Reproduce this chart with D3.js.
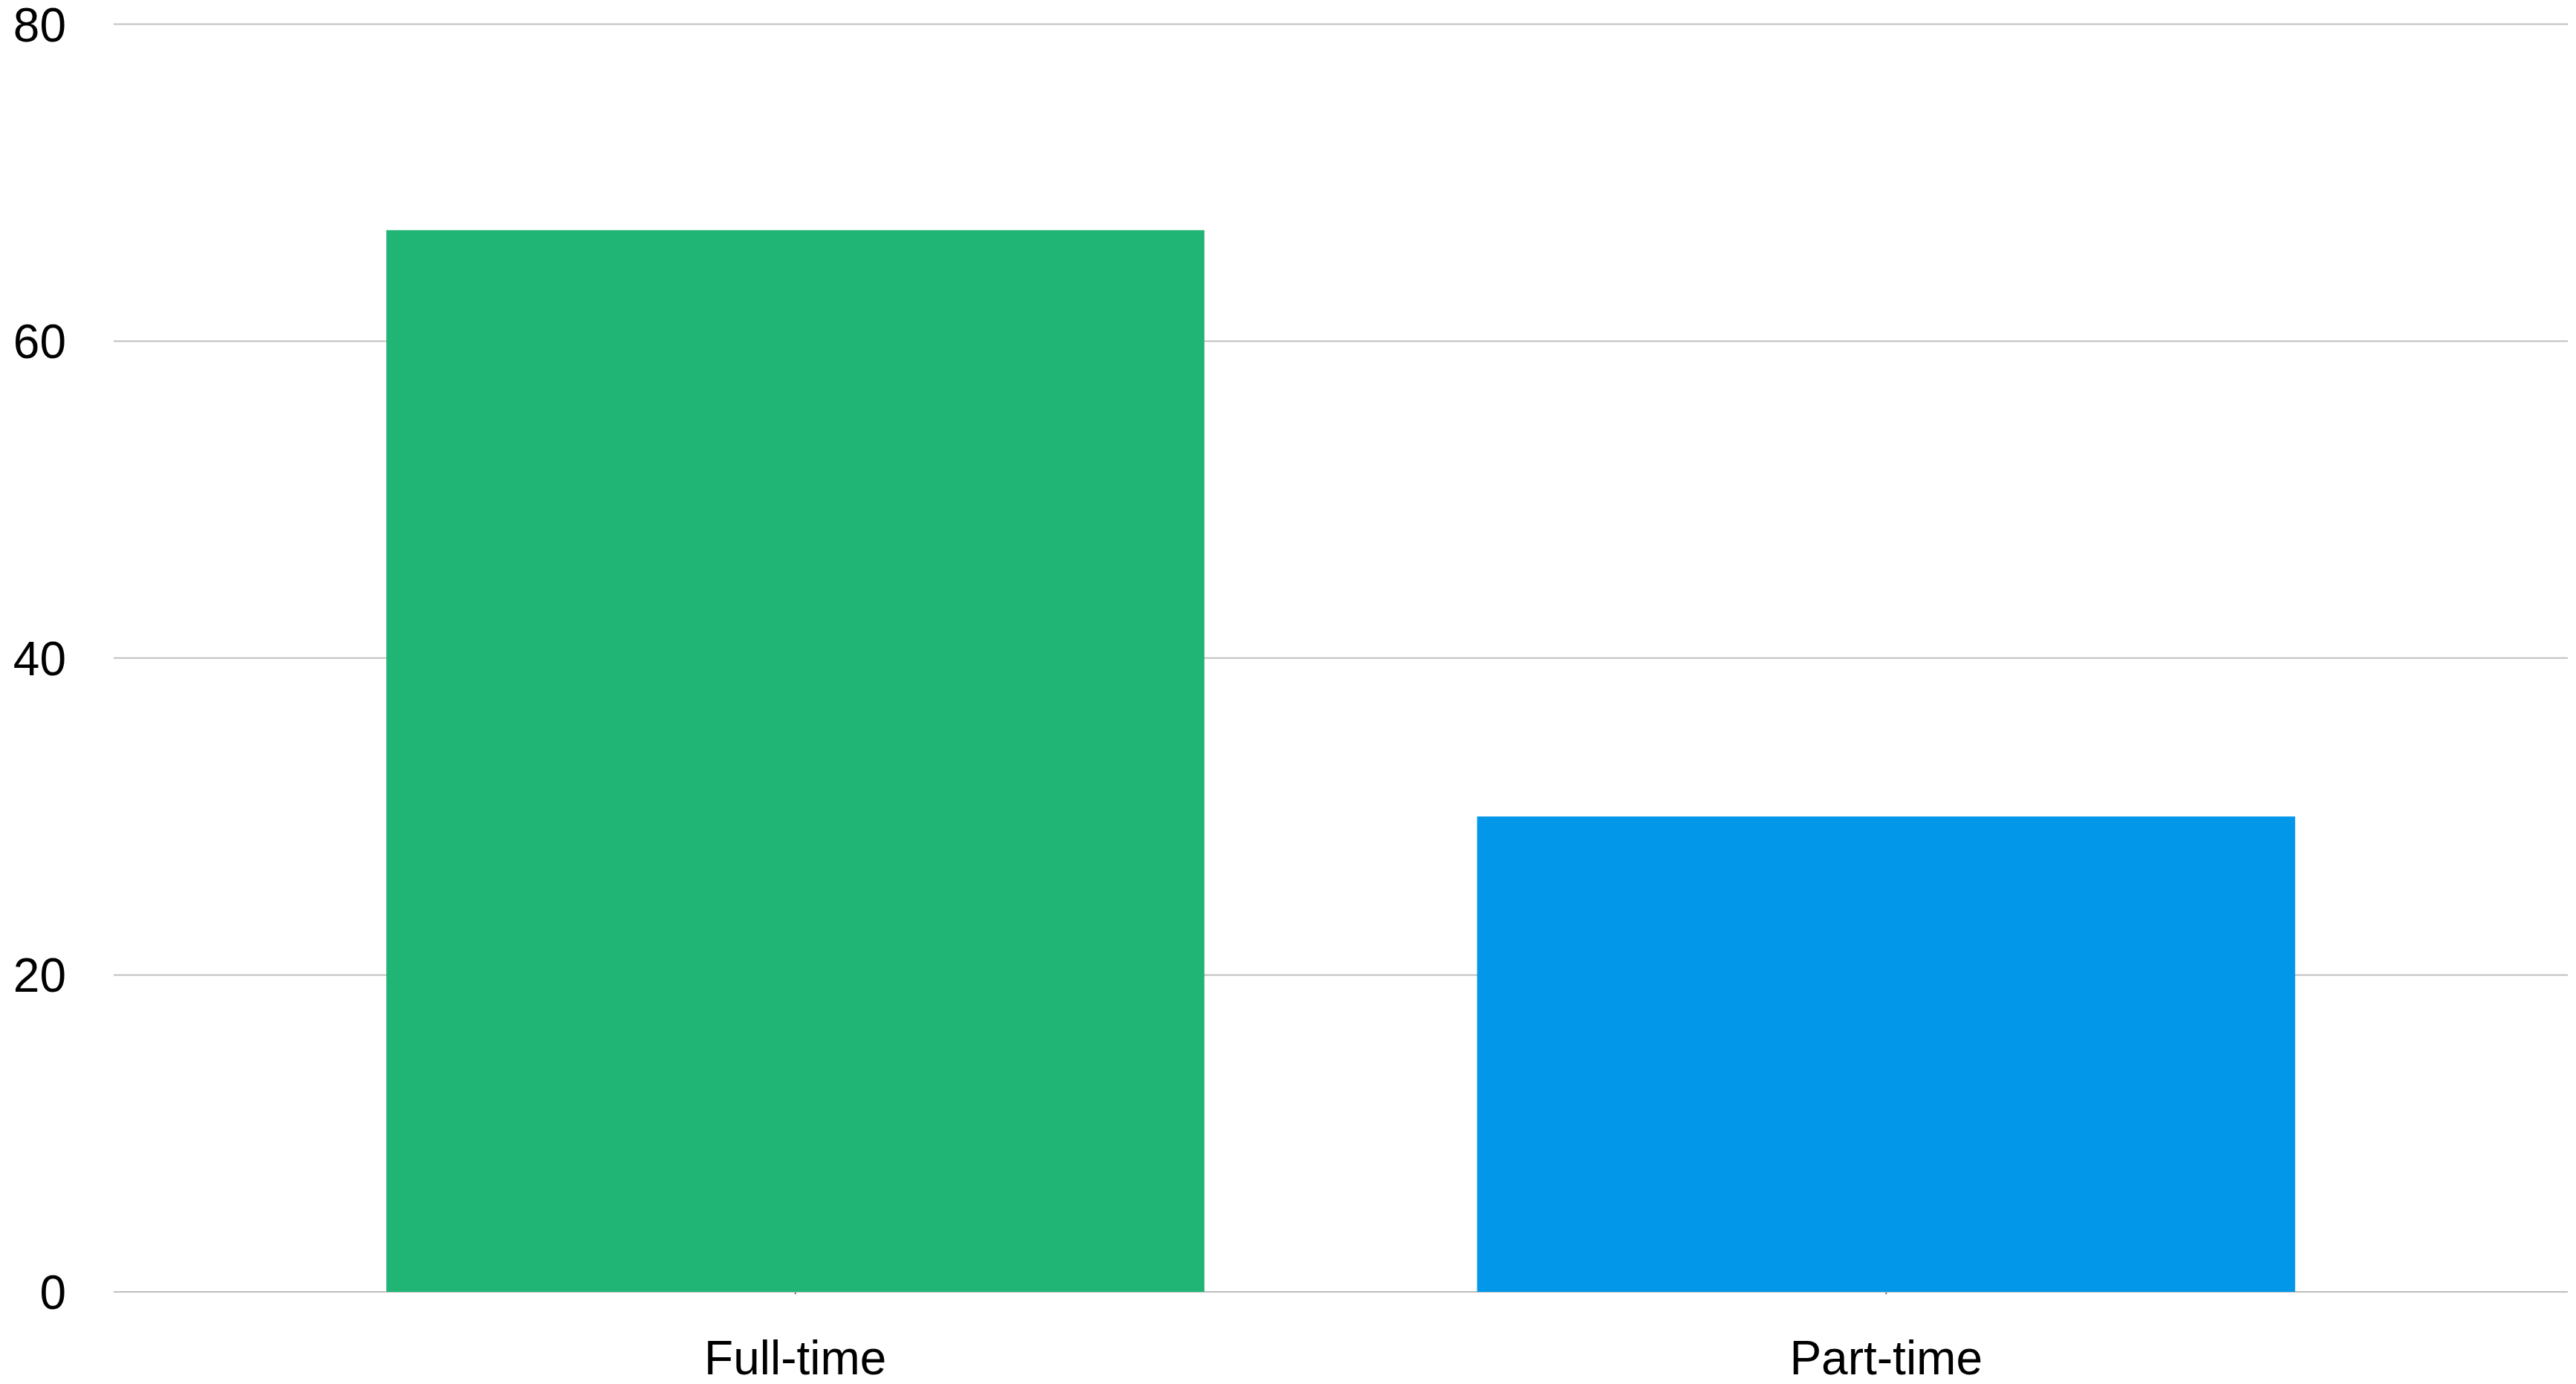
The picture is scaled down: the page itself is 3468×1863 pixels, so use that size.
<!DOCTYPE html>
<html>
<head>
<meta charset="utf-8">
<script src="https://cdn.jsdelivr.net/npm/d3@7"></script>
<style>
  html, body { margin: 0; padding: 0; background: #ffffff; }
  svg { display: block; }
  text { font-family: "Liberation Sans", Arial, sans-serif; fill: #000; }
</style>
</head>
<body>
<svg id="chart" width="3468" height="1863"></svg>
<script>
const categories = ["Full-time", "Part-time"];
const values = [67, 30];
const colors = ["#21b575", "#0397ea"];
const yTicks = [0, 20, 40, 60, 80];

(function () {
  const svg = d3.select("#chart");
  const plotLeft = 153, plotRight = 3457, plotTop = 32.5, plotBottom = 1739;

  const x = d3.scaleBand().domain(categories).range([plotLeft, plotRight]).paddingInner(0.25).paddingOuter(0.25);
  const y = d3.scaleLinear().domain([0, 80]).range([plotBottom, plotTop]);

  // gridlines
  svg.append("g").selectAll("line").data(yTicks).join("line")
    .attr("x1", plotLeft).attr("x2", plotRight)
    .attr("y1", d => y(d)).attr("y2", d => y(d))
    .attr("stroke", "#bfbfbf").attr("stroke-width", 2);

  // y labels
  svg.append("g").selectAll("text").data(yTicks).join("text")
    .attr("x", 89).attr("y", d => y(d))
    .attr("dy", "0.36em")
    .attr("text-anchor", "end")
    .attr("font-size", 64)
    .text(d => d);

  // bars
  svg.append("g").selectAll("rect").data(categories).join("rect")
    .attr("x", d => x(d))
    .attr("width", x.bandwidth())
    .attr("y", (d, i) => y(values[i]))
    .attr("height", (d, i) => y(0) - y(values[i]))
    .attr("fill", (d, i) => colors[i]);

  // small ticks
  svg.append("g").selectAll("line").data(categories).join("line")
    .attr("x1", d => x(d) + x.bandwidth() / 2).attr("x2", d => x(d) + x.bandwidth() / 2)
    .attr("y1", plotBottom + 1).attr("y2", plotBottom + 3)
    .attr("stroke", "#666").attr("stroke-width", 2);

  // x labels
  svg.append("g").selectAll("text").data(categories).join("text")
    .attr("x", d => x(d) + x.bandwidth() / 2)
    .attr("y", 1850)
    .attr("text-anchor", "middle")
    .attr("font-size", 64)
    .text(d => d);
})();
</script>
</body>
</html>
